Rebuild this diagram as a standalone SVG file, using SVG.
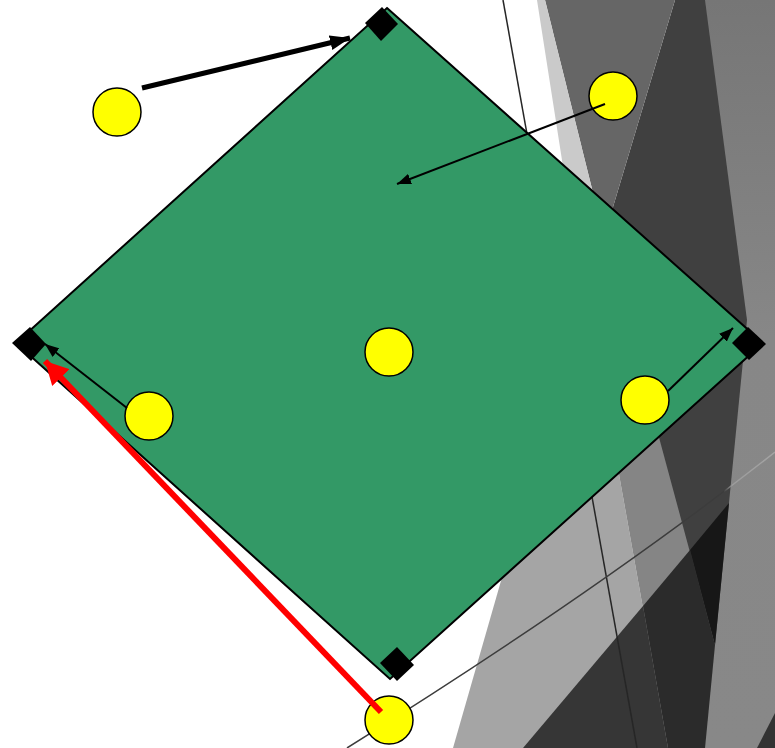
<svg xmlns="http://www.w3.org/2000/svg" width="775" height="748" viewBox="0 0 775 748">
  <style>
    .facet { stroke: none; }
    .bgline { fill: none; stroke-width: 1.5; }
    .diamond { fill: #339966; stroke: #000; stroke-width: 2; stroke-linejoin: miter; }
    .sq { fill: #000; }
    .dot { fill: #ffff00; stroke: #000; stroke-width: 1.5; }
    .conn { fill: none; stroke: #000; stroke-width: 2; }
    .conn-thick { fill: none; stroke: #000; stroke-width: 5; }
    .conn-red { fill: none; stroke: #ff0000; stroke-width: 6; }
  </style>
  <defs>
    <linearGradient id="rightGrad" x1="0" y1="0" x2="0" y2="748" gradientUnits="userSpaceOnUse">
      <stop offset="0" stop-color="#767676"/>
      <stop offset="0.45" stop-color="#878787"/>
      <stop offset="1" stop-color="#888888"/>
    </linearGradient>
    <linearGradient id="curveGrad" x1="347" y1="0" x2="775" y2="0" gradientUnits="userSpaceOnUse">
      <stop offset="0" stop-color="#3c3c3c"/>
      <stop offset="0.88" stop-color="#3c3c3c"/>
      <stop offset="0.9" stop-color="#9c9c9c"/>
      <stop offset="1" stop-color="#a4a4a4"/>
    </linearGradient>
    <marker id="mkThin" markerUnits="userSpaceOnUse" markerWidth="15" markerHeight="11" refX="14" refY="5.5" orient="auto">
      <path d="M0,0 L14,5.5 L0,11 z" fill="#000"/>
    </marker>
    <marker id="mkThick" markerUnits="userSpaceOnUse" markerWidth="21" markerHeight="15" refX="20" refY="7.5" orient="auto">
      <path d="M0,0 L20,7.5 L0,15 z" fill="#000"/>
    </marker>
    <marker id="mkRed" markerUnits="userSpaceOnUse" markerWidth="24" markerHeight="24" refX="23" refY="12" orient="auto">
      <path d="M0,0 L23,12 L0,24 z" fill="#ff0000"/>
    </marker>
  </defs>

  <rect width="775" height="748" fill="#ffffff"/>

  <g id="background">
    <polygon class="facet" points="690,0 775,0 775,748 690,748" fill="url(#rightGrad)"/>
    <polygon class="facet" points="675,0 705,0 747,320 715,645 655,430 604,237" fill="#404040"/>
    <polygon class="facet" points="545,0 675,0 604,237" fill="#666666"/>
    <polygon class="facet" points="537,0 545,0 604,237 574,237" fill="#cacaca"/>
    <polygon class="facet" points="530,480 453,748 668,748 615,452" fill="#a5a5a5"/>
    <polygon class="facet" points="615,452 668,748 705,748 715,645 657,430" fill="#858585"/>
    <polygon class="facet" points="523,748 643,606 668,748" fill="#363636"/>
    <polygon class="facet" points="643,606 690,550 715,645 705,748 668,748" fill="#2b2b2b"/>
    <polygon class="facet" points="690,550 729,503 715,645" fill="#171717"/>
    <polygon class="facet" points="757,748 775,748 775,713" fill="#333333"/>
    <line class="bgline" x1="503" y1="0" x2="637" y2="748" stroke="#262626"/>
    <path class="bgline" d="M347,748 Q600,590 775,452" stroke="url(#curveGrad)"/>
  </g>

  <g id="diamond">
    <polygon class="diamond" points="387,8 763,343 390,679 16,343"/>
  </g>

  <g id="corner-top"><polygon class="sq" points="382,7 398,24 381,41 365,23"/></g>
  <g id="corner-left"><polygon class="sq" points="12,343 30,327 46,344 31,361"/></g>
  <g id="corner-right"><polygon class="sq" points="732,343 748,327 766,344 749,360"/></g>
  <g id="corner-bottom"><polygon class="sq" points="380,663 397,647 414,665 397,681"/></g>

  <g id="dot-1"><circle class="dot" cx="117" cy="112" r="24"/></g>
  <g id="dot-2"><circle class="dot" cx="613" cy="96" r="24"/></g>
  <g id="dot-3"><circle class="dot" cx="389" cy="352" r="24"/></g>
  <g id="dot-4"><circle class="dot" cx="149" cy="416" r="24"/></g>
  <g id="dot-5"><circle class="dot" cx="645" cy="400" r="24"/></g>
  <g id="dot-6"><circle class="dot" cx="389" cy="720" r="24"/></g>

  <g id="connectors">
    <line class="conn-thick" x1="142" y1="88" x2="350" y2="38" marker-end="url(#mkThick)"/>
    <line class="conn" x1="605" y1="104" x2="397" y2="184" marker-end="url(#mkThin)"/>
    <line class="conn" x1="127" y1="408" x2="45" y2="344" marker-end="url(#mkThin)"/>
    <line class="conn" x1="668" y1="391" x2="733" y2="328" marker-end="url(#mkThin)"/>
    <line class="conn-red" x1="381" y1="712" x2="45" y2="361" marker-end="url(#mkRed)"/>
  </g>
</svg>
